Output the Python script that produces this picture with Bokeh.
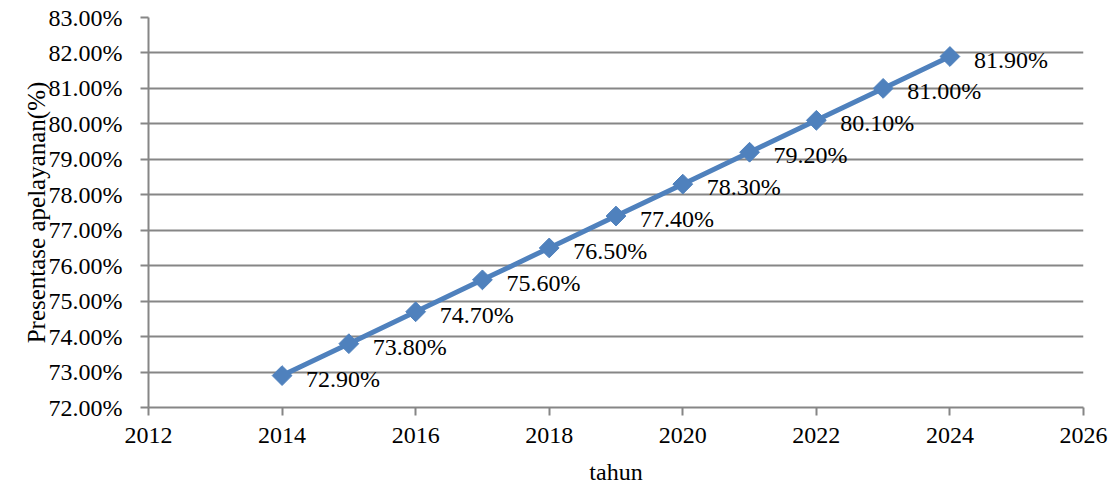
import math
from bokeh.plotting import figure
from bokeh.models import Range1d, PrintfTickFormatter, FixedTicker, ColumnDataSource
from bokeh.core.properties import value
from bokeh.embed import file_html
from bokeh.resources import INLINE

years = [2014, 2015, 2016, 2017, 2018, 2019, 2020, 2021, 2022, 2023, 2024]
pct = [72.9, 73.8, 74.7, 75.6, 76.5, 77.4, 78.3, 79.2, 80.1, 81.0, 81.9]
labels = ["72.90%", "73.80%", "74.70%", "75.60%", "76.50%", "77.40%",
          "78.30%", "79.20%", "80.10%", "81.00%", "81.90%"]
x_ticks = [2012, 2014, 2016, 2018, 2020, 2022, 2024, 2026]
y_ticks = [72, 73, 74, 75, 76, 77, 78, 79, 80, 81, 82, 83]

FONT = "'Liberation Serif', 'Times New Roman', serif"
FS = "24px"
GRID = "#868686"
BLUE = "#4F81BD"

p = figure(width=1116, height=490, output_backend="svg", toolbar_location=None,
           x_range=Range1d(2012, 2026), y_range=Range1d(72, 83),
           min_border_left=148, min_border_right=33, min_border_top=17, min_border_bottom=83)
p.outline_line_color = None
p.xgrid.grid_line_color = None
p.ygrid.grid_line_color = GRID
p.ygrid.grid_line_width = 2
p.ygrid.ticker = FixedTicker(ticks=y_ticks)

p.xaxis.ticker = FixedTicker(ticks=x_ticks)
p.yaxis.ticker = FixedTicker(ticks=y_ticks)
p.yaxis.formatter = PrintfTickFormatter(format="%.2f%%")
for ax in (p.xaxis, p.yaxis):
    ax.axis_line_color = GRID
    ax.axis_line_width = 2
    ax.major_tick_line_color = GRID
    ax.major_tick_line_width = 2
    ax.major_tick_out = 8
    ax.major_tick_in = 0
    ax.minor_tick_line_color = None
    ax.major_label_text_font = FONT
    ax.major_label_text_font_size = FS
    ax.major_label_text_color = "black"
    ax.axis_label_text_font = FONT
    ax.axis_label_text_font_style = "normal"
    ax.axis_label_text_color = "black"
p.xaxis.axis_label_text_font_size = FS
p.yaxis.axis_label_text_font_size = "25px"
p.xaxis.axis_label = "tahun"
p.yaxis.axis_label = "Presentase apelayanan(%)"
p.xaxis.major_label_standoff = 12
p.yaxis.major_label_standoff = 18
p.xaxis.axis_label_standoff = 13
p.yaxis.axis_label_standoff = -4

src = ColumnDataSource(dict(x=years, y=pct, t=labels))
p.line("x", "y", source=src, line_color=BLUE, line_width=5)
p.scatter("x", "y", source=src, marker="square", size=14, angle=math.pi / 4,
          fill_color=BLUE, line_color=BLUE)
p.text("x", "y", text="t", source=src, x_offset=24, y_offset=3,
       text_font=value(FONT), text_font_size=FS, text_baseline="middle",
       text_align="left", text_color="black")

open("out.html", "w").write(file_html(p, INLINE))
